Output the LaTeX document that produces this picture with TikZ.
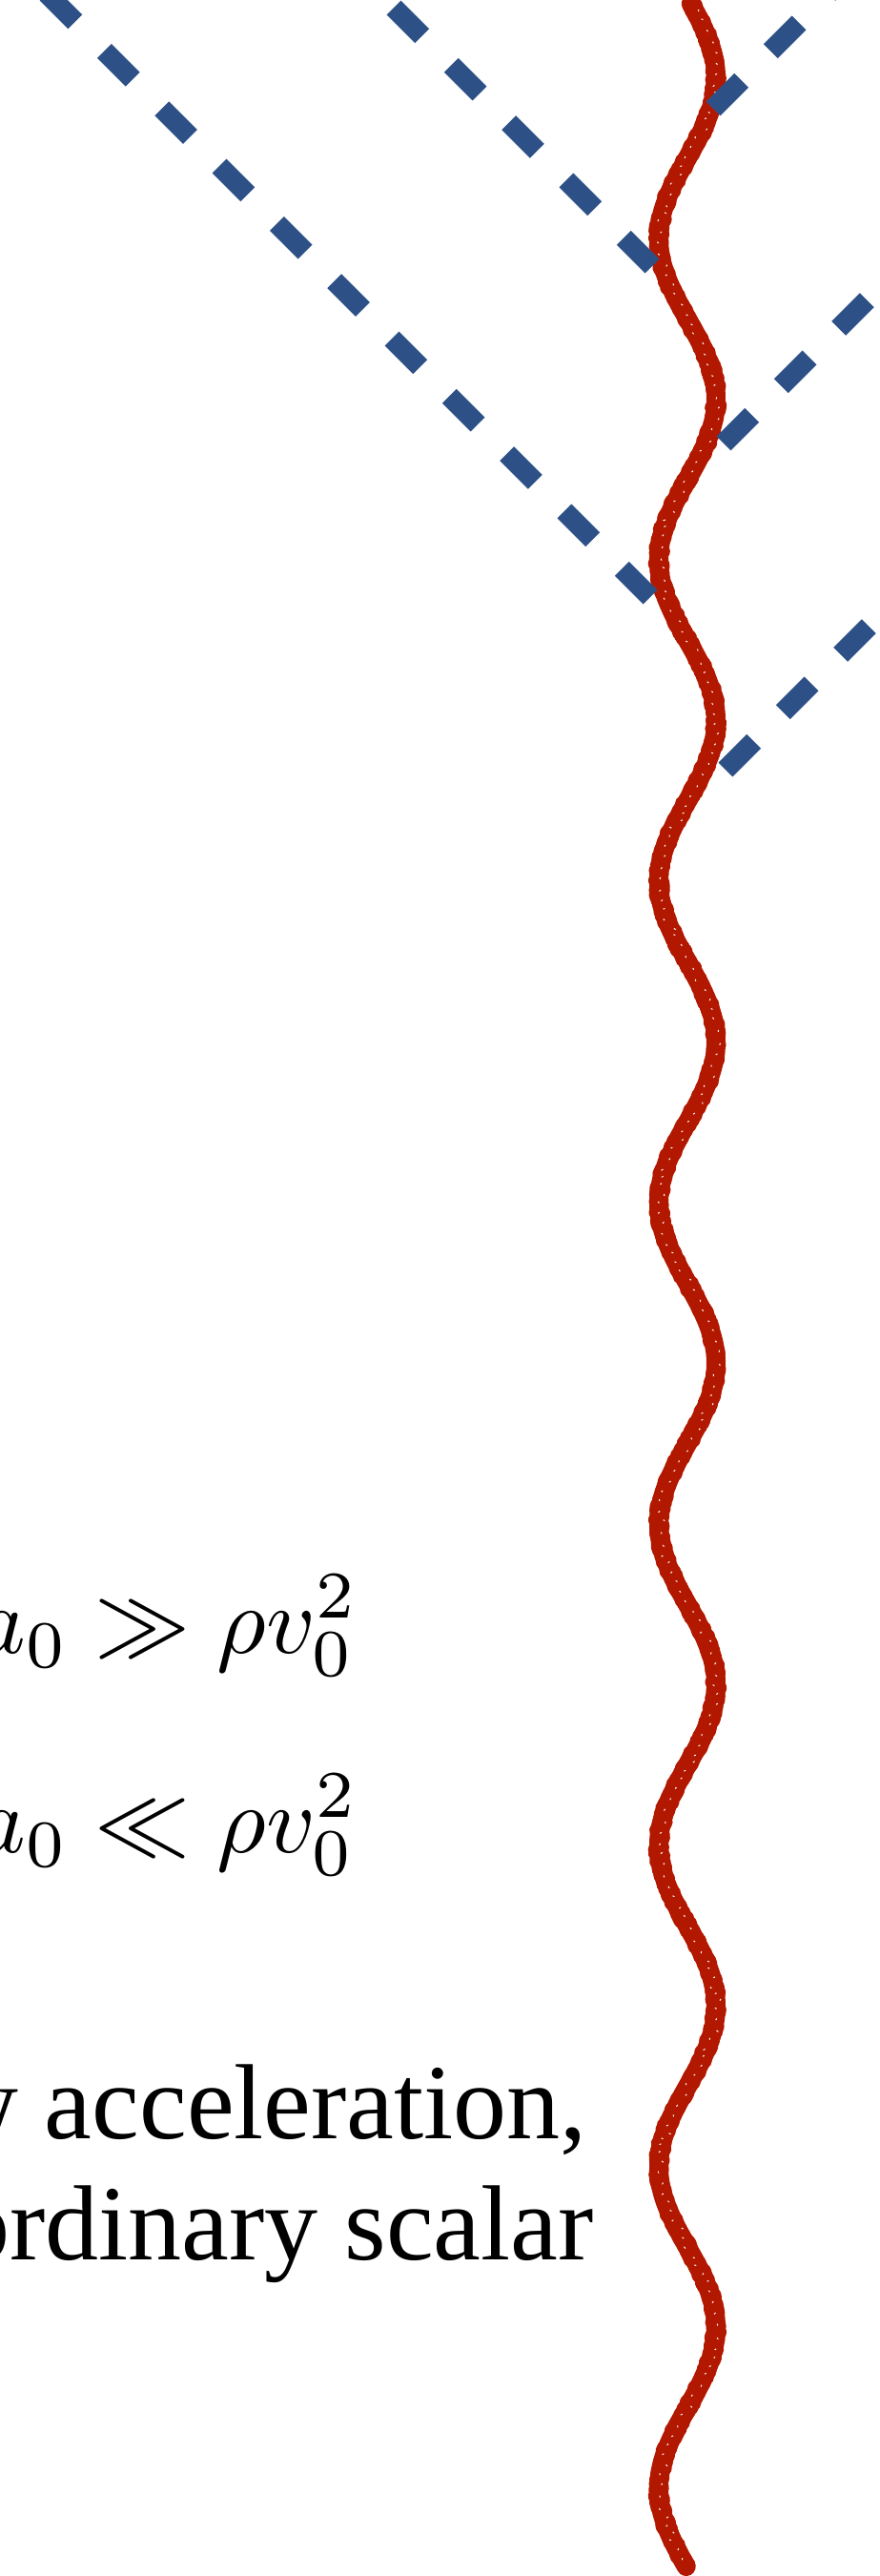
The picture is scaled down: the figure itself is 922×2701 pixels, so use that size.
\documentclass[tikz,border=0pt]{standalone}
\usepackage[no-math]{fontspec}
\setmainfont{Liberation Serif}
\definecolor{chalkred}{RGB}{178,24,0}
\definecolor{dashblue}{RGB}{45,81,134}
\newcommand{\bigmath}[1]{\scalebox{10}{\fontsize{10}{12}\selectfont$#1$}}
\begin{document}
\begin{tikzpicture}[x=1pt,y=-1pt,
  beam/.style={draw=dashblue, line width=21pt, dash pattern=on 42pt off 43.3pt},
  chalk/.style={draw=chalkred, line width=20pt, line cap=round, line join=round},
  txt/.style={inner sep=0pt, font=\fontsize{112}{124}\selectfont},
  eq/.style={inner sep=0pt}]
\useasboundingbox (0,0) rectangle (922,2701);
\clip (0,0) rectangle (922,2701);
% wave (chalk stroke)
\pgfmathsetseed{11}
\draw[chalk] plot[domain=4:2691, samples=600, smooth] ({721-30*cos(((\x-250)/337)*360)}, \x);
\draw[chalk, line width=17pt] plot[domain=6:2689, samples=1300] ({721-30*cos(((\x-250)/337)*360)+6*rnd-3}, \x);
\draw[chalk, line width=17pt] plot[domain=6:2689, samples=900] ({721-30*cos(((\x-250)/337)*360)+6*rnd-3}, \x);
\draw[white, line width=1pt, dash pattern=on 2pt off 13pt] plot[domain=10:2685, samples=700] ({722-30*cos(((\x-250)/337)*360)+10*rnd-5}, \x);
% dashed lines
\coordinate (A) at (682,626);
\coordinate (B) at (684,279);
\coordinate (R1) at (748,114);
\coordinate (R2) at (759,465);
\coordinate (R3) at (761,807);
\coordinate (Aend) at (-60,-116);
\coordinate (Bend) at (360,-45);
\coordinate (R1end) at (960,-98);
\coordinate (R2end) at (960,264);
\coordinate (R3end) at (960,608);
\draw[beam] (A) -- (Aend);
\draw[beam] (B) -- (Bend);
\draw[beam] (R1) -- (R1end);
\draw[beam] (R2) -- (R2end);
\draw[beam] (R3) -- (R3end);
% formulas
\node[eq, anchor=base west] (f1) at (-26,1733) {\bigmath{a_0 \gg \rho v_0^2}};
\node[eq, anchor=base west] (f2) at (-26,1942) {\bigmath{a_0 \ll \rho v_0^2}};
% text
\node[txt, anchor=base east] (t1) at (616,2242) {w acceleration,};
\node[txt, anchor=base east] (t2) at (623,2369) {ordinary scalar};
\end{tikzpicture}
\end{document}
